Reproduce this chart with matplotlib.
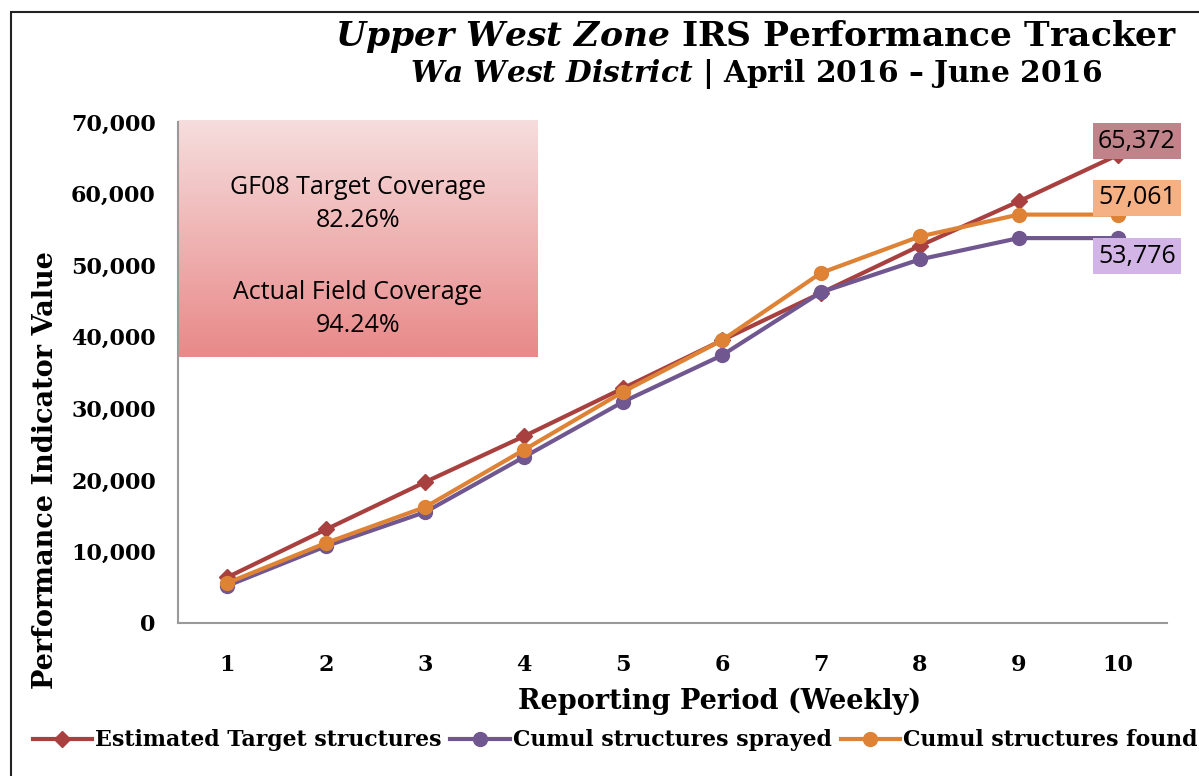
import matplotlib; matplotlib.use("Agg")
import matplotlib.pyplot as plt
import numpy as np
from matplotlib.patches import Rectangle
from matplotlib.ticker import FuncFormatter

weeks = [1, 2, 3, 4, 5, 6, 7, 8, 9, 10]
target = [6400, 13100, 19700, 26100, 32800, 39500, 46100, 52700, 58900, 65372]
sprayed = [5200, 10750, 15500, 23200, 30900, 37400, 46200, 50800, 53776, 53776]
found = [5600, 11200, 16200, 24200, 32300, 39500, 48900, 54000, 57061, 57061]
yticks = [0, 10000, 20000, 30000, 40000, 50000, 60000, 70000]

c_red, c_purple, c_orange = "#A8403F", "#70578F", "#DE8236"
serif = "DejaVu Serif"
sans = "Open Sans"
plt.rcParams["mathtext.fontset"] = "custom"
plt.rcParams["mathtext.it"] = "DejaVu Serif:bold:italic"
plt.rcParams["mathtext.rm"] = "DejaVu Serif:bold"

fig = plt.figure(figsize=(11.99, 7.76), dpi=100)
ax = fig.add_axes([0.1485, 0.1972, 0.8248, 0.6456])

# figure frame (top/left visible, cropped on right/bottom)
fig.patches.append(Rectangle((0.009, -0.5), 1.5, 1.485, transform=fig.transFigure,
                             fill=False, ec="#222222", lw=1.5))

# gradient info box
grad = np.linspace(0, 1, 100)[:, None, None]
top_c = np.array([246, 221, 221]) / 255
bot_c = np.array([233, 137, 137]) / 255
img = top_c * (1 - grad) + bot_c * grad
ax.imshow(img, extent=[0, 0.364, 0.531, 1.004], transform=ax.transAxes,
          aspect="auto", zorder=0, clip_on=False)
for txt, yy in [("GF08 Target Coverage", 0.87), ("82.26%", 0.804),
                ("Actual Field Coverage", 0.66), ("94.24%", 0.594)]:
    ax.text(0.182, yy, txt, transform=ax.transAxes, ha="center", va="center",
            fontsize=18, family=sans)

ax.plot(weeks, target, color=c_red, lw=3, marker="D", ms=8, label="Estimated Target structures", zorder=3)
ax.plot(weeks, sprayed, color=c_purple, lw=3, marker="o", ms=10, label="Cumul structures sprayed", zorder=4)
ax.plot(weeks, found, color=c_orange, lw=3, marker="o", ms=10, label="Cumul structures found", zorder=5)

# end labels
for vals, fc, dy in [(target, "#C08389", 10), (found, "#F5B083", 12), (sprayed, "#D3B4E7", -13)]:
    ax.annotate(f"{vals[-1]:,}", (weeks[-1], vals[-1]), xytext=(14, dy), textcoords="offset points",
                ha="center", va="center", fontsize=18, family=sans, zorder=6,
                bbox=dict(boxstyle="square,pad=0.22", fc=fc, ec="none"))

ax.set_xlim(0.5, 10.5)
ax.set_ylim(0, 70000)
ax.set_xticks(weeks)
ax.set_yticks(yticks)
ax.yaxis.set_major_formatter(FuncFormatter(lambda v, p: f"{int(v):,}"))
ax.tick_params(length=0)
ax.tick_params(axis="y", pad=16)
ax.tick_params(axis="x", pad=22)
for lab in ax.get_xticklabels() + ax.get_yticklabels():
    lab.set_family(serif); lab.set_fontweight("bold"); lab.set_fontsize(16)
for s in ["top", "right"]:
    ax.spines[s].set_visible(False)
for s in ["left", "bottom"]:
    ax.spines[s].set_color("#9a9a9a"); ax.spines[s].set_linewidth(1.5)

ax.set_ylabel("Performance Indicator Value", family=serif, fontweight="bold", fontsize=19.5)
ax.yaxis.set_label_coords(-0.12, 0.305)
ax.set_xlabel("Reporting Period (Weekly)", family=serif, fontweight="bold", fontsize=19.5)
ax.xaxis.set_label_coords(0.548, -0.13)

fig.text(0.631, 0.953, r"$\it{Upper\ West\ Zone}$" + " IRS Performance Tracker", ha="center", va="center",
         family=serif, fontweight="bold", fontsize=24.8)
fig.text(0.631, 0.905, r"$\it{Wa\ West\ District}$" + " | April 2016 \u2013 June 2016", ha="center", va="center",
         family=serif, fontweight="bold", fontsize=21.3)

fig.legend(loc="center", bbox_to_anchor=(0.513, 0.046), ncol=3, frameon=False,
           prop={"family": serif, "weight": "bold", "size": 15.8}, handlelength=2.7,
           handletextpad=0.15, columnspacing=0.4)

fig.savefig("out.png", dpi=100)
